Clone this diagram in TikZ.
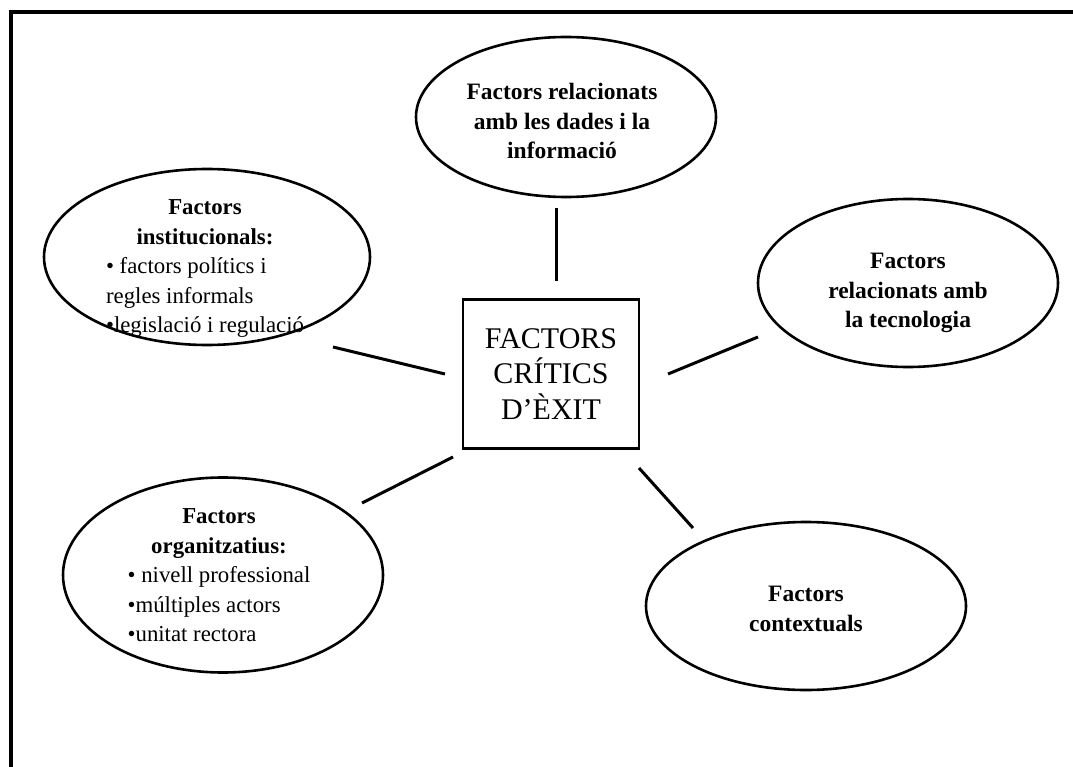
\documentclass[tikz,border=0pt]{standalone}
\usepackage{fontspec}
\setmainfont{Liberation Serif}
\newfontfamily\hubfont{Liberation Serif}
\usetikzlibrary{shapes.geometric}
\begin{document}
\begin{tikzpicture}[x=1pt,y=-1pt,
  bubble/.style={draw, ellipse, line width=2.6pt, inner sep=0pt},
  hub/.style={draw, line width=2.6pt, minimum width=176pt, minimum height=149pt,
    inner sep=0pt, align=center, font=\hubfont\fontsize{30}{35.5}\selectfont},
  title/.style={align=center, inner sep=0pt, font=\rmfamily\fontsize{23.5}{29.5}\selectfont\bfseries},
  listtext/.style={inner sep=0pt, font=\rmfamily\fontsize{22.8}{29.5}\selectfont},
  link/.style={line width=3pt},
  frame/.style={line width=4.5pt}
]
\useasboundingbox (0,0) rectangle (1073,767);
\clip (0,0) rectangle (1073,767);

% outer frame
\draw[frame] (11,800) -- (11,12) -- (1100,12);

% central box
\node[hub] (hub) at (551,374) {FACTORS\\CRÍTICS\\D’ÈXIT};

% surrounding ellipses
\node[bubble, minimum width=300pt, minimum height=160pt] (data) at (566,117) {};
\node[bubble, minimum width=326pt, minimum height=176pt] (inst) at (207,257) {};
\node[bubble, minimum width=300pt, minimum height=168pt] (tech) at (908,283) {};
\node[bubble, minimum width=320pt, minimum height=195pt] (org) at (223,575) {};
\node[bubble, minimum width=320pt, minimum height=168pt] (ctx) at (806,606) {};

% ellipse texts
\node[title] (datat) at (562,121) {Factors relacionats\\amb les dades i la\\informació};
\node[title] (techt) at (908,293) {Factors\\relacionats amb\\la tecnologia};
\node[title] (ctxt) at (806,609) {Factors\\contextuals};
\node[listtext] (instt) at (205,268) {\begin{tabular}{@{}l@{}}
  \multicolumn{1}{@{}c@{}}{\bfseries Factors}\\
  \multicolumn{1}{@{}c@{}}{\bfseries institucionals:}\\
  • factors polítics i\\
  regles informals\\
  •legislació i regulació
\end{tabular}};
\node[listtext] (orgt) at (219,577) {\begin{tabular}{@{}l@{}}
  \multicolumn{1}{@{}c@{}}{\bfseries Factors}\\
  \multicolumn{1}{@{}c@{}}{\bfseries organitzatius:}\\
  • nivell professional\\
  •múltiples actors\\
  •unitat rectora
\end{tabular}};

% connector end points
\coordinate (dataA) at (556,208);
\coordinate (dataB) at (556,281);
\coordinate (instA) at (333,347);
\coordinate (instB) at (445,374);
\coordinate (techA) at (758,337);
\coordinate (techB) at (668,374);
\coordinate (orgA) at (362,503);
\coordinate (orgB) at (453,457);
\coordinate (ctxA) at (693,528);
\coordinate (ctxB) at (639,468);

% connectors
\draw[link] (dataA) -- (dataB);
\draw[link] (instA) -- (instB);
\draw[link] (techA) -- (techB);
\draw[link] (orgA) -- (orgB);
\draw[link] (ctxA) -- (ctxB);
\end{tikzpicture}
\end{document}
